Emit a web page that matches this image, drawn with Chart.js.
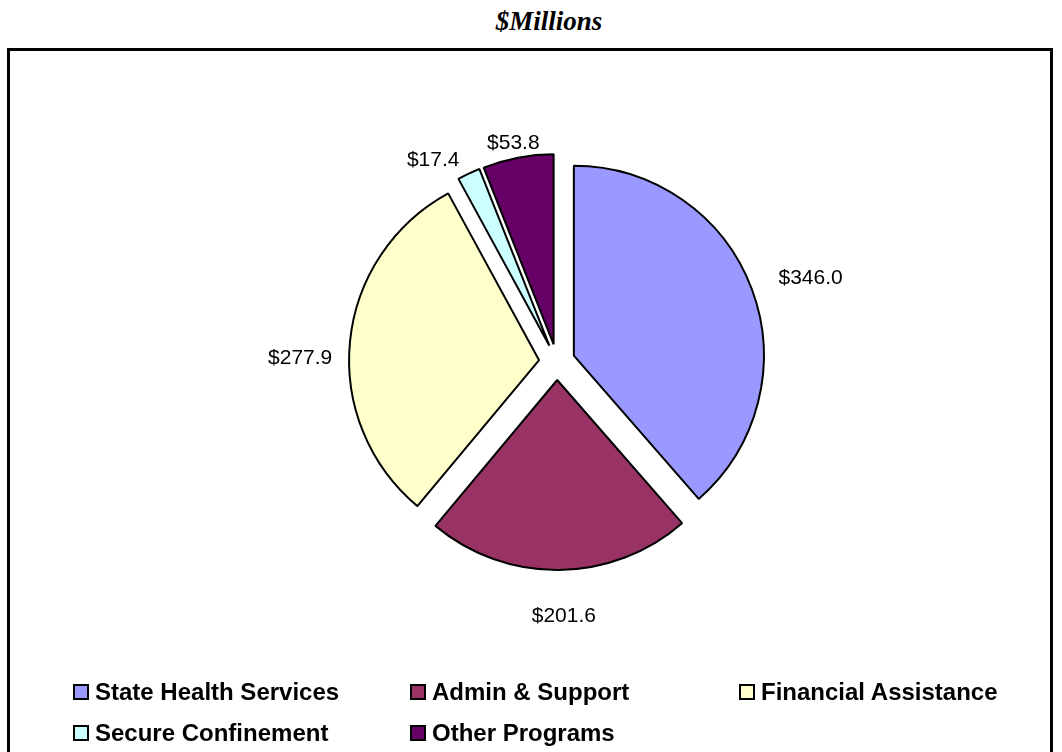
<!DOCTYPE html>
<html>
<head>
<meta charset="utf-8">
<script src="https://cdn.jsdelivr.net/npm/chart.js"></script>
<style>
  body { margin: 0; background: #fff; width: 1062px; height: 752px; overflow: hidden; position: relative; }
  #title { position: absolute; left: 18px; top: 6px; width: 1062px; text-align: center;
           font: italic bold 27px "Liberation Serif", "Times New Roman", serif; }
  #frame { position: absolute; left: 7px; top: 48px; width: 1040px; height: 730px; border: 3px solid #000; }
  #chart { position: absolute; left: 0; top: 0; }
  #legend { position: absolute; left: 73px; top: 671px; display: grid;
            grid-template-columns: 337px 329px auto; grid-auto-rows: 41px; }
  .item { display: flex; align-items: center; font: bold 24px "Liberation Sans", Arial, sans-serif; white-space: nowrap; }
  .box { width: 12px; height: 12px; border: 2px solid #000; margin-right: 6px; }
</style>
</head>
<body>
<div id="title">$Millions</div>
<div id="frame"></div>
<canvas id="chart" width="1062" height="752"></canvas>
<div id="legend"></div>
<script>
const categories = ['State Health Services', 'Admin & Support', 'Financial Assistance', 'Secure Confinement', 'Other Programs'];
const values = [346.0, 201.6, 277.9, 17.4, 53.8];
const valueLabels = values.map(v => '$' + v.toFixed(1));
const colors = ['#9999FF', '#993366', '#FFFFCC', '#CCFFFF', '#660066'];

// how far each slice is pulled out, and label tweaks
const EXPLODE = 18;
const LABEL_GAP = 20;
const labelNudge = [[10, 0], [4, 16], [2, 20], [-16, 14], [4, 15]];

// draw each arc shifted out along its middle angle
const explodePlugin = {
    id: 'explode',
    beforeDatasetDraw(chart, args) {
        const ctx = chart.ctx;
        args.meta.data.forEach(arc => {
            const mid = (arc.startAngle + arc.endAngle) / 2;
            ctx.save();
            ctx.translate(Math.cos(mid) * EXPLODE, Math.sin(mid) * EXPLODE);
            arc.draw(ctx);
            ctx.restore();
        });
        return false;
    }
};

const valueLabelPlugin = {
    id: 'valueLabels',
    afterDraw(chart) {
        const ctx = chart.ctx;
        const arcs = chart.getDatasetMeta(0).data;
        ctx.save();
        ctx.font = '21px "Liberation Sans", Arial, sans-serif';
        ctx.fillStyle = '#000';
        ctx.textAlign = 'center';
        ctx.textBaseline = 'middle';
        arcs.forEach((arc, i) => {
            const mid = (arc.startAngle + arc.endAngle) / 2;
            const cos = Math.cos(mid), sin = Math.sin(mid);
            const w = ctx.measureText(valueLabels[i]).width;
            const r = arc.outerRadius + EXPLODE + LABEL_GAP;
            const x = arc.x + cos * r + cos * w / 2 + labelNudge[i][0];
            const y = arc.y + sin * r + sin * 10.5 + labelNudge[i][1];
            ctx.fillText(valueLabels[i], x, y);
        });
        ctx.restore();
    }
};

new Chart(document.getElementById('chart'), {
    type: 'pie',
    data: {
        labels: categories,
        datasets: [{
            data: values,
            backgroundColor: colors,
            borderColor: '#000',
            borderWidth: 2,
            radius: 190
        }]
    },
    options: {
        responsive: false,
        animation: false,
        events: [],
        layout: { padding: { left: 52, right: 0, top: 0, bottom: 28 } },
        plugins: {
            legend: { display: false },
            tooltip: { enabled: false }
        }
    },
    plugins: [explodePlugin, valueLabelPlugin]
});

// legend in three columns like the original
const legend = document.getElementById('legend');
categories.forEach((name, i) => {
    const item = document.createElement('div');
    item.className = 'item';
    const box = document.createElement('span');
    box.className = 'box';
    box.style.background = colors[i];
    item.appendChild(box);
    item.appendChild(document.createTextNode(name));
    legend.appendChild(item);
});
</script>
</body>
</html>
